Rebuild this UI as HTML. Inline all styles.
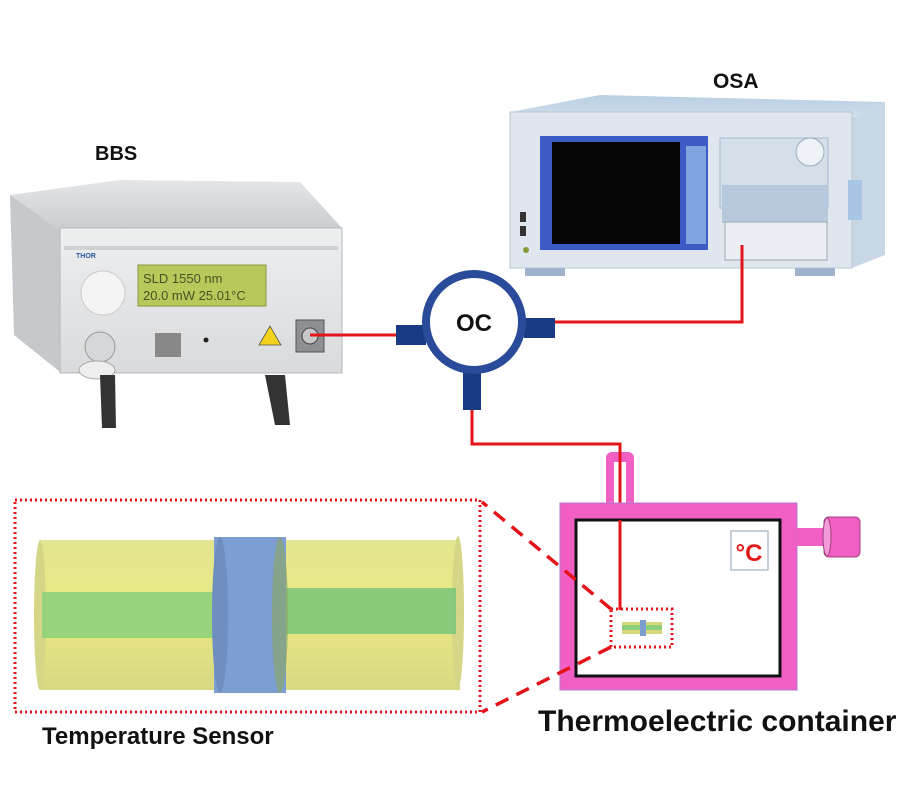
<!DOCTYPE html>
<html><head><meta charset="utf-8"><style>
html,body{margin:0;padding:0;background:#fff;}
svg{display:block;}
text{font-family:"Liberation Sans",sans-serif;}
</style></head><body>
<svg width="900" height="800" viewBox="0 0 900 800" xmlns="http://www.w3.org/2000/svg">
<defs>
<linearGradient id="bbsTop" x1="0" y1="0" x2="0" y2="1"><stop offset="0" stop-color="#e4e6e8"/><stop offset="1" stop-color="#c9ccd0"/></linearGradient>
<linearGradient id="bbsFront" x1="0" y1="0" x2="0" y2="1"><stop offset="0" stop-color="#eeeff0"/><stop offset="1" stop-color="#d8dadc"/></linearGradient>
<linearGradient id="osaTop" x1="0" y1="0" x2="0" y2="1"><stop offset="0" stop-color="#b8cfe4"/><stop offset="1" stop-color="#d2dfeb"/></linearGradient>
<linearGradient id="yel" x1="0" y1="0" x2="0" y2="1"><stop offset="0" stop-color="#e2e48a"/><stop offset="0.5" stop-color="#e8e87c"/><stop offset="1" stop-color="#d6d67e"/></linearGradient>
</defs>

<text x="95" y="160" font-size="20" font-weight="bold" fill="#111">BBS</text>
<text x="713" y="88" font-size="21" font-weight="bold" fill="#111">OSA</text>

<!-- BBS device -->
<polygon points="10,195 120,180 300,182 342,228 60,230" fill="url(#bbsTop)"/>
<polygon points="10,195 60,230 60,372 14,335" fill="#c6c9cc"/>
<rect x="60" y="228" width="282" height="145" fill="url(#bbsFront)" stroke="#b5b8bb"/>
<rect x="64" y="246" width="274" height="4" fill="#cfd2d5"/>
<text x="76" y="258" font-size="7" font-weight="bold" fill="#2a5aa0">THOR</text>
<rect x="138" y="265" width="128" height="41" fill="#b9c85a" stroke="#8c9640"/>
<text x="143" y="283" font-size="13" fill="#4a5224" font-family="Liberation Mono">SLD     1550 nm</text>
<text x="143" y="300" font-size="13" fill="#4a5224" font-family="Liberation Mono">20.0 mW  25.01°C</text>
<circle cx="103" cy="293" r="22" fill="#f4f4f4" stroke="#ccc"/>
<circle cx="100" cy="347" r="15" fill="#d6d8da" stroke="#999"/>
<ellipse cx="97" cy="370" rx="18" ry="9" fill="#eee" stroke="#aaa"/>
<rect x="155" y="333" width="26" height="24" fill="#888"/>
<circle cx="206" cy="340" r="2.5" fill="#222"/>
<polygon points="270,326 259,345 281,345" fill="#f2d21c" stroke="#555" stroke-width="0.8"/>
<rect x="296" y="320" width="28" height="32" fill="#8d8f92" stroke="#555"/>
<circle cx="310" cy="336" r="8" fill="#c8c8c8" stroke="#444"/>
<polygon points="100,375 115,375 116,428 102,428" fill="#333"/>
<polygon points="265,375 285,375 290,425 275,425" fill="#333"/>

<!-- OSA device -->
<polygon points="510,112 600,95 885,102 852,118" fill="url(#osaTop)"/>
<polygon points="852,118 885,102 885,255 852,268" fill="#c9d6e3"/>
<rect x="510" y="112" width="342" height="156" fill="#dfe6ee" stroke="#b8c5d3"/>
<rect x="540" y="136" width="168" height="114" fill="#3a5cc4"/>
<rect x="552" y="142" width="128" height="102" fill="#050505"/>
<rect x="686" y="146" width="20" height="98" fill="#7fa3de"/>
<rect x="720" y="138" width="108" height="70" fill="#d5dfea" stroke="#a8bbd0"/>
<rect x="722" y="185" width="106" height="38" fill="#b7c9dd"/>
<circle cx="810" cy="152" r="14" fill="#eef2f6" stroke="#9aaabb"/>
<rect x="725" y="222" width="102" height="38" fill="#eaeef3" stroke="#9aa"/>
<rect x="520" y="212" width="6" height="10" fill="#333"/>
<rect x="520" y="226" width="6" height="10" fill="#333"/>
<circle cx="526" cy="250" r="3" fill="#8a9a3a"/>
<rect x="525" y="268" width="40" height="8" fill="#9eb4cc"/>
<rect x="795" y="268" width="40" height="8" fill="#9eb4cc"/>
<rect x="848" y="180" width="14" height="40" fill="#a9c5e6"/>

<g stroke="#e4141b" stroke-width="3" fill="none">
<line x1="310" y1="335" x2="396" y2="335"/>
<polyline points="555,322 742,322 742,245"/>
<polyline points="472,410 472,444 620,444 620,610"/>
</g>

<!-- OC -->
<rect x="396" y="325" width="30" height="20" fill="#1b3a84"/>
<rect x="524" y="318" width="31" height="20" fill="#1b3a84"/>
<rect x="463" y="372" width="18" height="38" fill="#1b3a84"/>
<circle cx="474" cy="322" r="48" fill="#fff" stroke="#2a4a9a" stroke-width="8"/>
<text x="474" y="331" font-size="24" font-weight="bold" text-anchor="middle" fill="#111">OC</text>

<!-- Thermoelectric container -->
<rect x="606" y="452" width="28" height="56" rx="6" fill="#f25fc4"/>
<rect x="614" y="462" width="12" height="46" fill="#fff"/>
<line x1="620" y1="444" x2="620" y2="610" stroke="#e4141b" stroke-width="3"/>
<rect x="560" y="503" width="237" height="187" fill="#f25fc4" stroke="#b07ad0" stroke-width="1"/>
<rect x="576" y="520" width="204" height="156" fill="#fff" stroke="#111" stroke-width="3"/>
<line x1="620" y1="520" x2="620" y2="610" stroke="#e4141b" stroke-width="3"/>
<rect x="797" y="528" width="30" height="18" fill="#f25fc4"/>
<rect x="824" y="517" width="36" height="40" rx="5" fill="#f25fc4" stroke="#a0407c"/>
<ellipse cx="827" cy="537" rx="4" ry="19" fill="#f59ad8" stroke="#a0407c"/>
<rect x="731" y="531" width="37" height="39" fill="#fff" stroke="#8da0b5"/>
<text x="749" y="561" font-size="24" font-weight="bold" text-anchor="middle" fill="#e41a1a" font-family="Liberation Serif">°C</text>
<rect x="611" y="609" width="61" height="38" fill="none" stroke="#e4141b" stroke-width="3" stroke-dasharray="2,3"/>
<rect x="622" y="622" width="40" height="12" fill="#d8d87a"/>
<rect x="622" y="625" width="40" height="5" fill="#8ccf7a"/>
<rect x="640" y="620" width="6" height="16" fill="#7f9ed0"/>

<g stroke="#e4141b" stroke-width="3.5" stroke-dasharray="14,9" fill="none">
<line x1="611" y1="609" x2="482" y2="502"/>
<line x1="611" y1="647" x2="482" y2="712"/>
</g>

<!-- Sensor zoom -->
<rect x="15" y="500" width="465" height="212" fill="none" stroke="#e4141b" stroke-width="3" stroke-dasharray="2,3"/>
<rect x="40" y="540" width="420" height="150" fill="url(#yel)" opacity="0.95"/>
<ellipse cx="40" cy="615" rx="6" ry="75" fill="#d6d688"/>
<ellipse cx="458" cy="612" rx="6" ry="76" fill="#d6d688"/>
<rect x="42" y="592" width="178" height="46" fill="#8fd27a" opacity="0.9"/>
<rect x="278" y="588" width="178" height="46" fill="#7ec87a" opacity="0.9"/>
<rect x="214" y="537" width="72" height="156" fill="#7c9ed2"/>
<ellipse cx="220" cy="615" rx="8" ry="78" fill="#6f8fc0"/>
<ellipse cx="280" cy="615" rx="8" ry="78" fill="#8aa66e" opacity="0.7"/>
<text x="42" y="744" font-size="24" font-weight="bold" fill="#111">Temperature Sensor</text>

<text x="538" y="731" font-size="30" font-weight="bold" fill="#111">Thermoelectric container</text>
</svg>
</body></html>
